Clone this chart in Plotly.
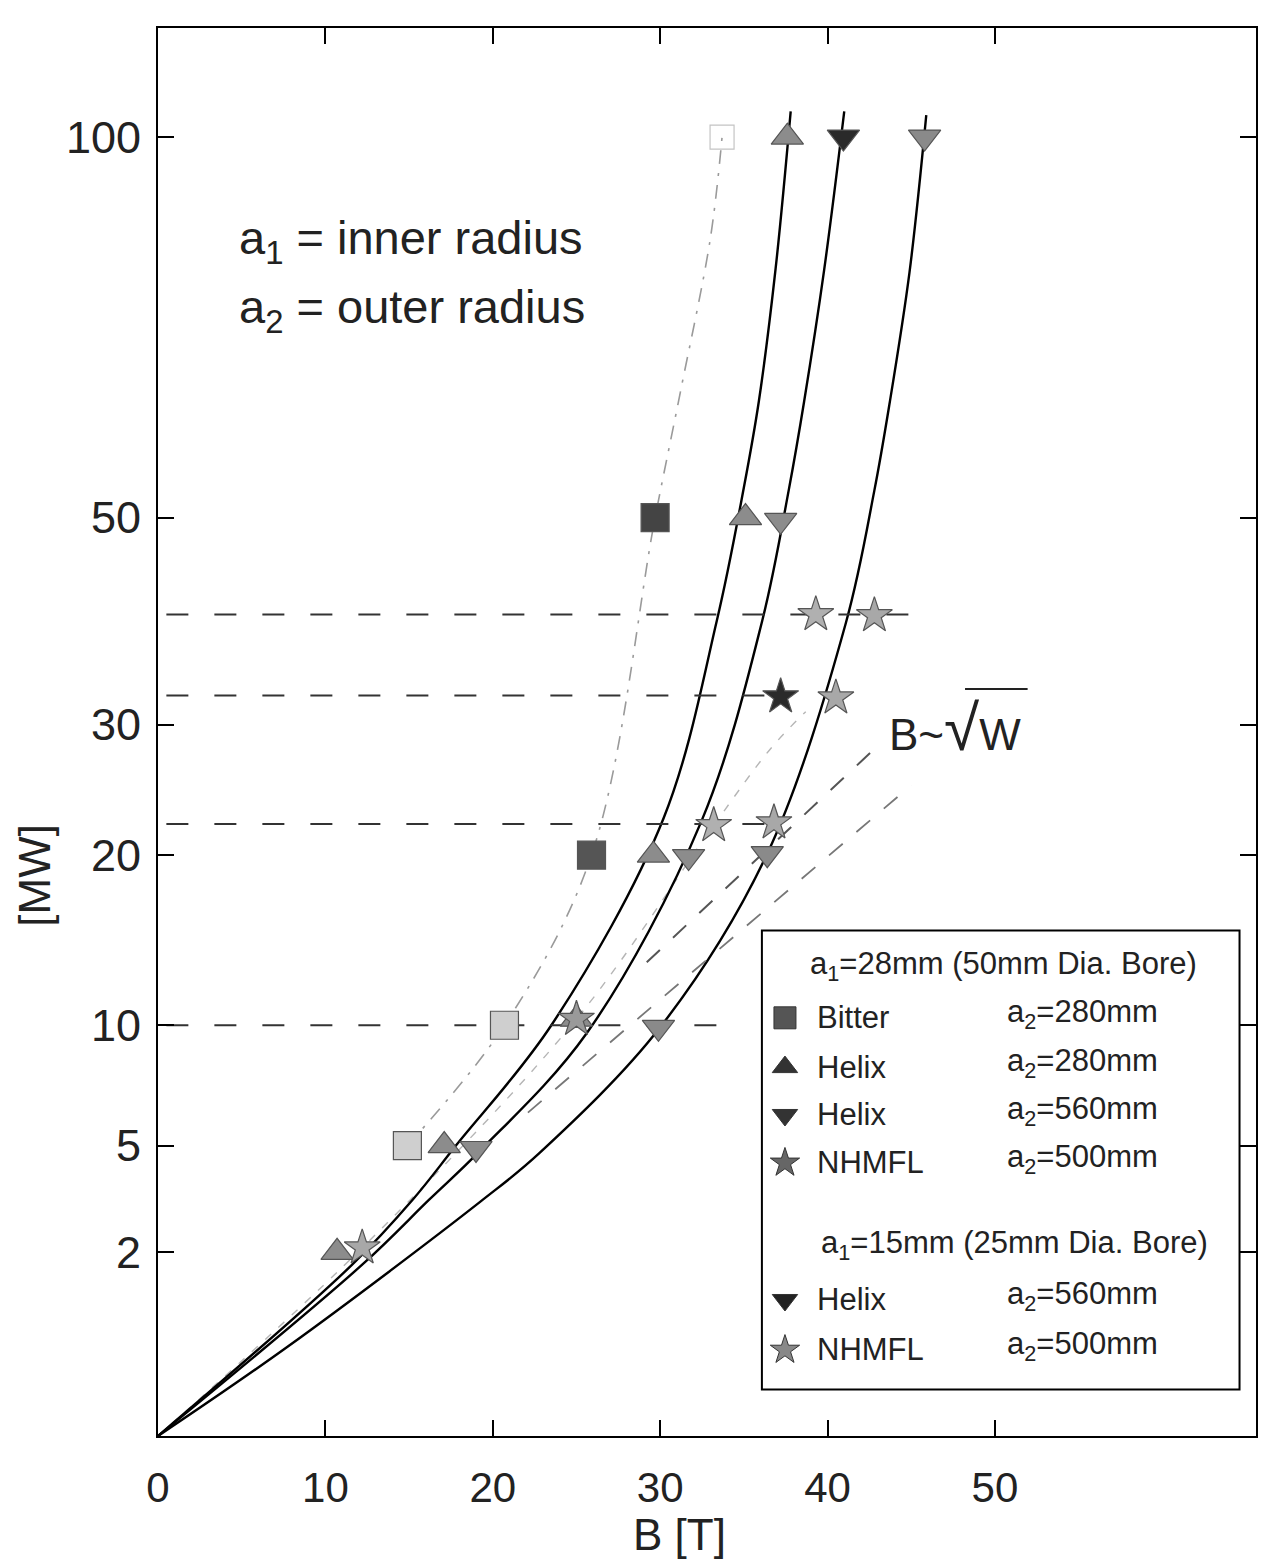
import numpy as np
import plotly.graph_objects as go

# ---------------- data (B in tesla, W in MW) ----------------
y_tick_vals = [2, 5, 10, 20, 30, 50, 100]
x_tick_vals = [0, 10, 20, 30, 40, 50]

# a1 = 28 mm : Bitter a2 = 280 mm
bitter_B = [14.9, 20.7, 25.9, 29.7]
bitter_W = [5, 10, 20, 50]
bitter_top_B = [33.7]
bitter_top_W = [100]
bitter_curve_B = [14.9, 20.7, 25.9, 29.7, 31.2, 33.0, 33.7]
bitter_curve_W = [5, 10, 20, 50, 64.5, 85, 100]

# a1 = 28 mm : Helix a2 = 280 mm
helix280_B = [10.7, 17.1, 25.0, 29.6, 35.1, 37.6]
helix280_W = [2.0, 5.0, 10.3, 20.0, 50.0, 100.0]
curve_h280_B = [0, 11.6, 15.2, 17.8, 23.5, 30.2, 33.4, 35.0, 35.9, 36.9, 37.8]
curve_h280_W = [0, 1.74, 3.3, 5.0, 10.0, 22.6, 39.5, 53.3, 63.5, 80.8, 104]

# a1 = 28 mm : Helix a2 = 560 mm
helix560_B = [19.0, 31.7, 37.2, 40.95]
helix560_W = [4.9, 19.9, 49.7, 100.0]
curve_h560_B = [0, 12.2, 16.2, 19.2, 25.6, 32.5, 36.1, 37.7, 38.6, 39.8, 41.0]
curve_h560_W = [0, 1.74, 3.31, 4.8, 9.6, 22.5, 39.4, 53.2, 63.4, 80.6, 104]

# a1 = 15 mm : Helix a2 = 560 mm
helix560s_B = [29.9, 36.4, 45.8]
helix560s_W = [9.9, 20.1, 100.0]
curve_h560s_B = [0, 7.8, 19.3, 22.8, 30.0, 36.4, 41.1, 42.8, 43.7, 44.9, 45.9]
curve_h560s_W = [0, 0.48, 3.27, 4.75, 9.9, 20.1, 39.2, 53.0, 63.1, 80.3, 103.4]

# NHMFL a2 = 500 mm
nhmfl_B = [12.2, 25.0, 33.2, 37.2, 39.3]
nhmfl_W = [2.1, 10.3, 22.1, 32.4, 40.0]
nhmfl_curve_B = [0, 12.2, 25.0, 33.2, 36.6, 38.7]
nhmfl_curve_W = [0, 2.1, 10.3, 22.1, 28.0, 31.1]
nhmfl_s_B = [36.8, 40.5, 42.8]
nhmfl_s_W = [22.3, 32.3, 39.9]

# dashed reference levels
level_W = [40.0, 32.5, 22.2, 10.0]
level_B_start = [0.5, 0.5, 0.5, 0.5]
level_B_end = [45.6, 37.2, 36.8, 34.5]

# B ~ sqrt(W) guide lines (end points)
guideA_B = [29.2, 42.9]
guideA_W = [13.3, 28.1]
guideB_B = [22.1, 45.0]
guideB_W = [6.2, 25.1]

sq = np.sqrt
FONT = "Liberation Sans, Arial, Helvetica, sans-serif"
TXT = "#222222"

fig = go.Figure()

def line(xs, ws, color="black", width=2.4, dash="solid", shape="spline"):
    fig.add_trace(go.Scatter(x=xs, y=sq(np.array(ws, dtype=float)), mode="lines",
                             line=dict(color=color, width=width, dash=dash, shape=shape,
                                       smoothing=1.0 if shape == "spline" else None),
                             hoverinfo="skip"))

# curves
line(bitter_curve_B, bitter_curve_W, color="#9a9a9a", width=1.6, dash="14px,9px,3px,9px")
line(nhmfl_curve_B, nhmfl_curve_W, color="#b5b5b5", width=1.4, dash="8px,10px")
line(curve_h280_B, curve_h280_W)
line(curve_h560_B, curve_h560_W)
line(curve_h560s_B, curve_h560s_W)

# horizontal dashed levels
for w, b0, b1 in zip(level_W, level_B_start, level_B_end):
    line([b0, b1], [w, w], color="#333333", width=2, dash="22px,26px", shape="linear")

# B ~ sqrt(W) guides
line(guideA_B, guideA_W, color="#555555", width=2, dash="18px,18px", shape="linear")
line(guideB_B, guideB_W, color="#777777", width=1.8, dash="18px,18px", shape="linear")

def markers(xs, ws, symbol, colors, size=26, lc="#555555"):
    fig.add_trace(go.Scatter(x=xs, y=sq(np.array(ws, dtype=float)), mode="markers",
                             marker=dict(symbol=symbol, size=size, color=colors,
                                         line=dict(color=lc, width=1.2)),
                             hoverinfo="skip"))

markers(bitter_B, bitter_W, "square", ["#cfcfcf", "#cfcfcf", "#555555", "#444444"], size=28)
markers(bitter_top_B, bitter_top_W, "square-open", "#c4c4c4", size=24, lc="#c4c4c4")
markers(helix280_B, helix280_W, "triangle-up", "#8c8c8c", size=28)
markers(helix560_B, helix560_W, "triangle-down",
        ["#8c8c8c", "#8c8c8c", "#8c8c8c", "#2a2a2a"], size=28)
markers(helix560s_B, helix560s_W, "triangle-down", "#8a8a8a", size=28)
markers(nhmfl_B, nhmfl_W, "star",
        ["#a8a8a8", "#9a9a9a", "#b0b0b0", "#2a2a2a", "#b0b0b0"], size=27)
markers(nhmfl_s_B, nhmfl_s_W, "star", "#a8a8a8", size=27)

# ---------------- legend (drawn inside plot) ----------------
lx0, lx1, ly0, ly1 = 0.550, 0.985, 0.033, 0.359
fig.add_shape(type="rect", xref="paper", yref="paper", x0=lx0, x1=lx1, y0=ly0, y1=ly1,
              line=dict(color="black", width=2), fillcolor="white", layer="below")

leg_rows_y = [0.297, 0.262, 0.228, 0.194, 0.0966, 0.0611]
leg_symbols = ["square", "triangle-up", "triangle-down", "star", "triangle-down", "star"]
leg_colors = ["#555555", "#333333", "#333333", "#666666", "#222222", "#888888"]
leg_names = ["Bitter", "Helix", "Helix", "NHMFL", "Helix", "NHMFL"]
leg_a2 = ["280", "280", "560", "500", "560", "500"]
leg_sym_x = 0.571

fig.add_trace(go.Scatter(x=[leg_sym_x] * len(leg_rows_y), y=leg_rows_y, xaxis="x2", yaxis="y2",
                         mode="markers",
                         marker=dict(symbol=leg_symbols, size=22, color=leg_colors,
                                     line=dict(color="#333333", width=1)),
                         hoverinfo="skip"))

ann = []
ann.append(dict(x=0.592, y=0.334, text="a<sub>1</sub>=28mm (50mm Dia. Bore)"))
ann.append(dict(x=0.602, y=0.136, text="a<sub>1</sub>=15mm (25mm Dia. Bore)"))
for yy, nm, a2 in zip(leg_rows_y, leg_names, leg_a2):
    ann.append(dict(x=0.598, y=yy, text=nm))
    ann.append(dict(x=0.771, y=yy + 0.003, text="a<sub>2</sub>=" + a2 + "mm"))
annotations = []
for a in ann:
    annotations.append(dict(xref="paper", yref="paper", x=a["x"], y=a["y"], text=a["text"],
                            showarrow=False, xanchor="left", yanchor="middle",
                            font=dict(family=FONT, size=31, color=TXT)))

# descriptive texts
annotations.append(dict(xref="paper", yref="paper", x=0.072, y=0.849,
                        text="a<sub>1</sub> = inner radius", showarrow=False,
                        xanchor="left", yanchor="middle",
                        font=dict(family=FONT, size=47, color=TXT)))
annotations.append(dict(xref="paper", yref="paper", x=0.072, y=0.800,
                        text="a<sub>2</sub> = outer radius", showarrow=False,
                        xanchor="left", yanchor="middle",
                        font=dict(family=FONT, size=47, color=TXT)))
annotations.append(dict(xref="paper", yref="paper", x=0.664, y=0.503,
                        text="B~<span style='font-size:64px'>√</span>W", showarrow=False,
                        xanchor="left", yanchor="middle",
                        font=dict(family=FONT, size=44, color=TXT)))
# axis titles
annotations.append(dict(xref="paper", yref="paper", x=0.475, y=-0.0703, text="B [T]",
                        showarrow=False, xanchor="center", yanchor="middle",
                        font=dict(family=FONT, size=44, color=TXT)))
annotations.append(dict(xref="paper", yref="paper", x=-0.112, y=0.398, text="[MW]",
                        textangle=-90, showarrow=False, xanchor="center", yanchor="middle",
                        font=dict(family=FONT, size=44, color=TXT)))

fig.add_shape(type="line", xref="paper", yref="paper", x0=0.735, x1=0.792, y0=0.5305, y1=0.5305,
              line=dict(color=TXT, width=2))

fig.update_layout(
    width=1283, height=1564,
    margin=dict(l=150, r=35, t=20, b=136),
    paper_bgcolor="white", plot_bgcolor="white",
    showlegend=False,
    annotations=annotations,
    xaxis=dict(range=[0, 65.6], tickvals=x_tick_vals, ticktext=[str(v) for v in x_tick_vals],
               ticks="inside", ticklen=16, tickwidth=2, tickcolor="black",
               showline=True, linewidth=2, linecolor="black", mirror="ticks",
               showgrid=False, zeroline=False, automargin=False,
               tickfont=dict(family=FONT, size=42, color=TXT),
               ticklabelstandoff=14),
    yaxis=dict(range=[0, 10.84], tickvals=list(sq(np.array(y_tick_vals, dtype=float))),
               ticktext=[str(v) for v in y_tick_vals],
               ticks="inside", ticklen=16, tickwidth=2, tickcolor="black",
               showline=True, linewidth=2, linecolor="black", mirror="ticks",
               showgrid=False, zeroline=False, automargin=False,
               tickfont=dict(family=FONT, size=45, color=TXT),
               ticklabelstandoff=6),
    xaxis2=dict(range=[0, 1], overlaying="x", anchor="y2", visible=False),
    yaxis2=dict(range=[0, 1], overlaying="y", anchor="x2", visible=False),
)

fig.write_html("out.html")
